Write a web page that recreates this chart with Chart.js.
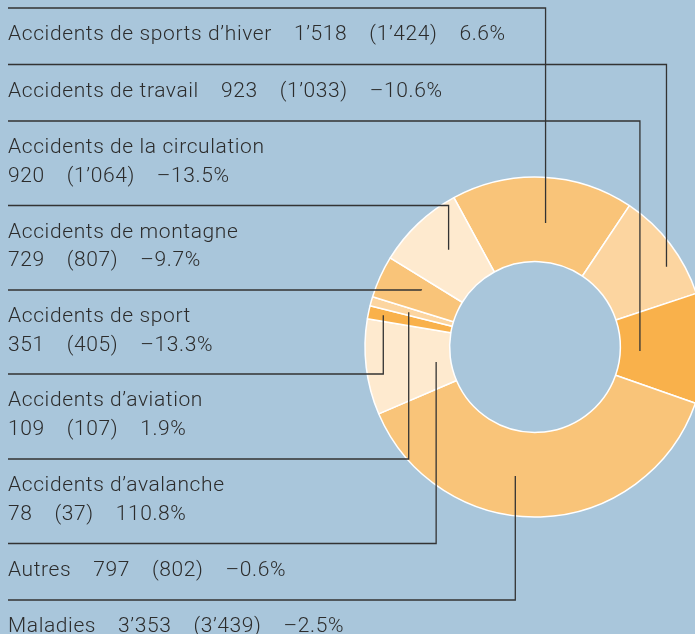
<!DOCTYPE html>
<html><head><meta charset="utf-8">
<script src="https://cdn.jsdelivr.net/npm/chart.js@4.4.1/dist/chart.umd.min.js"></script>
<style>
html,body{margin:0;padding:0;background:#A9C6DB;overflow:hidden;width:695px;height:634px}
#wrap{position:absolute;left:0;top:0;width:760px;height:634px}
</style></head><body>
<div id="wrap"><canvas id="c" width="760" height="634"></canvas></div>
<script>
// Slice order (clockwise from the top)
const categories = ["Accidents de sports d’hiver", "Accidents de travail", "Accidents de la circulation", "Maladies", "Autres", "Accidents d’aviation", "Accidents d’avalanche", "Accidents de sport", "Accidents de montagne"];
const values2014 = [1518, 923, 920, 3353, 797, 109, 78, 351, 729];
const values2013 = [1424, 1033, 1064, 3439, 802, 107, 37, 405, 807];
const changes = ["6.6%", "–10.6%", "–13.5%", "–2.5%", "–0.6%", "1.9%", "110.8%", "–13.3%", "–9.7%"];
const sliceColors = ["#F9C479", "#FCD5A0", "#F9B14B", "#F9C479", "#FEEACF", "#F9B14B", "#FCD5A0", "#F9C479", "#FEEACF"];

// Label list, top to bottom (indices into categories)
const labelOrder = [0, 1, 2, 8, 7, 5, 6, 4, 3];
const twoLine =    [false, false, true, true, true, true, true, false, false];
const lineYs =     [8, 64.5, 121, 205.5, 290, 374, 459, 543.5, 600];
// leader anchor inside each slice: fraction of the slice angle, radius in px (by slice index)
const anchorFrac = [0.536, 0.657, 0.544, 0.577, 0.443, 0.51, 0.44, 0.65, 0.56];
const anchorRad =  [124.5, 154, 105, 130.5, 100, 155, 131, 127, 130];

const fmt = n => n >= 1000 ? Math.floor(n / 1000) + "’" + String(n % 1000).padStart(3, "0") : String(n);

const FONT = "300 21px Roboto, 'Liberation Sans', sans-serif";
const TEXT_COLOR = "#2c2c2c";
const GAP = 22;

const bgPlugin = {
  id: "bg",
  beforeDraw(chart) {
    const c = chart.ctx;
    c.save();
    c.fillStyle = "#A9C6DB";
    c.fillRect(0, 0, chart.width, chart.height);
    c.restore();
  }
};

const labelPlugin = {
  id: "labels",
  afterDatasetsDraw(chart) {
    const c = chart.ctx;
    const arcs = chart.getDatasetMeta(0).data;
    c.save();
    // leader lines
    c.strokeStyle = "#333";
    c.lineWidth = 1.3;
    labelOrder.forEach((idx, k) => {
      const a = arcs[idx];
      const th = a.startAngle + anchorFrac[idx] * (a.endAngle - a.startAngle);
      const px = a.x + anchorRad[idx] * Math.cos(th);
      const py = a.y + anchorRad[idx] * Math.sin(th);
      const ly = lineYs[k];
      c.beginPath();
      c.moveTo(8, ly);
      c.lineTo(px, ly);
      c.lineTo(px, py);
      c.stroke();
    });
    // texts
    c.font = FONT;
    if ("letterSpacing" in c) c.letterSpacing = "0.6px";
    c.fillStyle = TEXT_COLOR;
    c.textBaseline = "alphabetic";
    c.textAlign = "left";
    labelOrder.forEach((idx, k) => {
      const ly = lineYs[k];
      const nums = [fmt(values2014[idx]), "(" + fmt(values2013[idx]) + ")", changes[idx]];
      let x = 8;
      let y = ly + 32;
      c.fillText(categories[idx], x, y);
      if (twoLine[k]) {
        y += 28.5;
      } else {
        x += c.measureText(categories[idx]).width + GAP;
      }
      nums.forEach(t => {
        c.fillText(t, x, y);
        x += c.measureText(t).width + GAP;
      });
    });
    c.restore();
  }
};

new Chart(document.getElementById("c"), {
  type: "doughnut",
  data: {
    labels: categories,
    datasets: [{
      data: values2014,
      backgroundColor: sliceColors,
      borderColor: "#ffffff",
      borderWidth: 1.5,
      hoverOffset: 0
    }]
  },
  options: {
    responsive: false,
    animation: false,
    events: [],
    rotation: -28.5,
    radius: 170,
    cutout: 85,
    layout: { padding: { left: 365, right: 55, top: 177, bottom: 117 } },
    plugins: { legend: { display: false }, tooltip: { enabled: false } }
  },
  plugins: [bgPlugin, labelPlugin]
});
</script>
</body></html>
